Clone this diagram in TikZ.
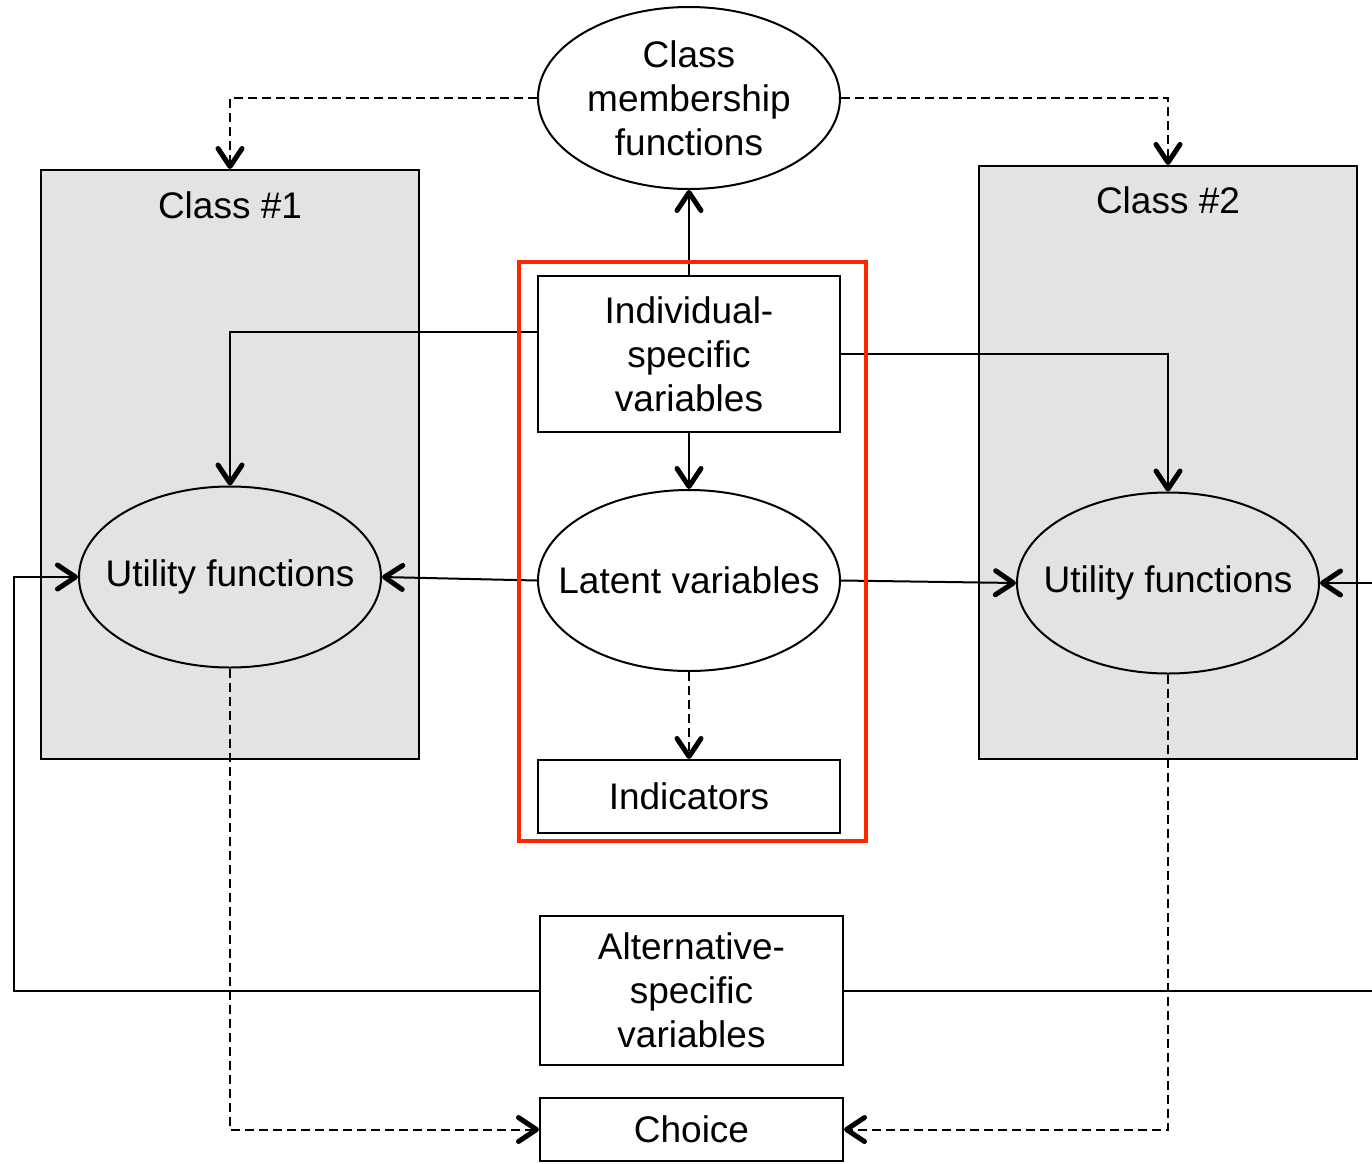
\documentclass[tikz,border=0pt]{standalone}
\usepackage{fontspec}
\setmainfont{Liberation Sans}
\usetikzlibrary{shapes.geometric,arrows.meta,calc}
\definecolor{boxgray}{RGB}{227,227,227}
\definecolor{redline}{RGB}{255,38,0}
\begin{document}
\begin{tikzpicture}[x=0.5pt,y=-0.5pt,
  font=\fontsize{18.5pt}{22pt}\selectfont,
  every node/.style={inner sep=0pt, align=center},
  lw/.style={line width=1pt},
  classbox/.style={draw, lw, fill=boxgray, rectangle, minimum width=189pt},
  recbox/.style={draw, lw, fill=white, rectangle, minimum width=151pt},
  ellnode/.style={draw, lw, ellipse, inner xsep=-20pt, inner ysep=0pt, minimum width=151pt, minimum height=90.5pt},
  conn/.style={lw, -{Straight Barb[length=9pt,width=12pt,line width=2.5pt,round]}},
  dconn/.style={conn, dash pattern=on 4.5pt off 2.5pt},
]
\useasboundingbox (0,0) rectangle (1372,1163);
\clip (0,0) rectangle (1372,1163);

% class boxes
\node[classbox, minimum height=294.5pt] (class1) at (230,464.5) {};
\node (class1lbl) at (230,205) {Class \#1};
\node[classbox, minimum height=296.5pt] (class2) at (1168,462.5) {};
\node (class2lbl) at (1168,200) {Class \#2};

% nodes
\node[ellnode, fill=white, minimum height=91pt] (cm) at (689,98) {Class\\membership\\functions};
\node[recbox, minimum height=78pt] (isv) at (689,354) {Individual-\\specific\\variables};
\node[ellnode, fill=white] (lat) at (689,580.5) {Latent variables};
\node[recbox, minimum height=36.5pt] (ind) at (689,796.5) {Indicators};
\node[ellnode, fill=boxgray] (u1) at (230,577) {Utility functions};
\node[ellnode, fill=boxgray] (u2) at (1168,583) {Utility functions};
\node[recbox, minimum width=151.5pt, minimum height=74.5pt] (asv) at (691.5,990.5) {Alternative-\\specific\\variables};
\node[recbox, minimum width=151.5pt, minimum height=31.5pt] (choice) at (691.5,1129.5) {Choice};

\coordinate (lbend) at (14,990.5);
\coordinate (rbend) at (1390,990.5);

% connectors
\draw[dconn] (cm.west) -| (class1.north);
\draw[dconn] (cm.east) -| (class2.north);
\draw[conn] (isv.north) -- (cm.south);
\draw[conn] ($(isv.west)+(0,-22)$) -| (u1.north);
\draw[conn] (isv.east) -| (u2.north);
\draw[conn] (isv.south) -- (lat.north);
\draw[conn] (lat.west) -- (u1.east);
\draw[conn] (lat.east) -- (u2.west);
\draw[dconn] (lat.south) -- (ind.north);
\draw[conn] (asv.west) -- (lbend) |- (u1.west);
\draw[conn] (asv.east) -- (rbend) |- (u2.east);
\draw[dconn] (u1.south) |- (choice.west);
\draw[dconn] (u2.south) |- (choice.east);

% red group box
\node[draw=redline, line width=2pt, rectangle, minimum width=173.5pt, minimum height=289.5pt] (grp) at (692.5,551.5) {};
\end{tikzpicture}
\end{document}
